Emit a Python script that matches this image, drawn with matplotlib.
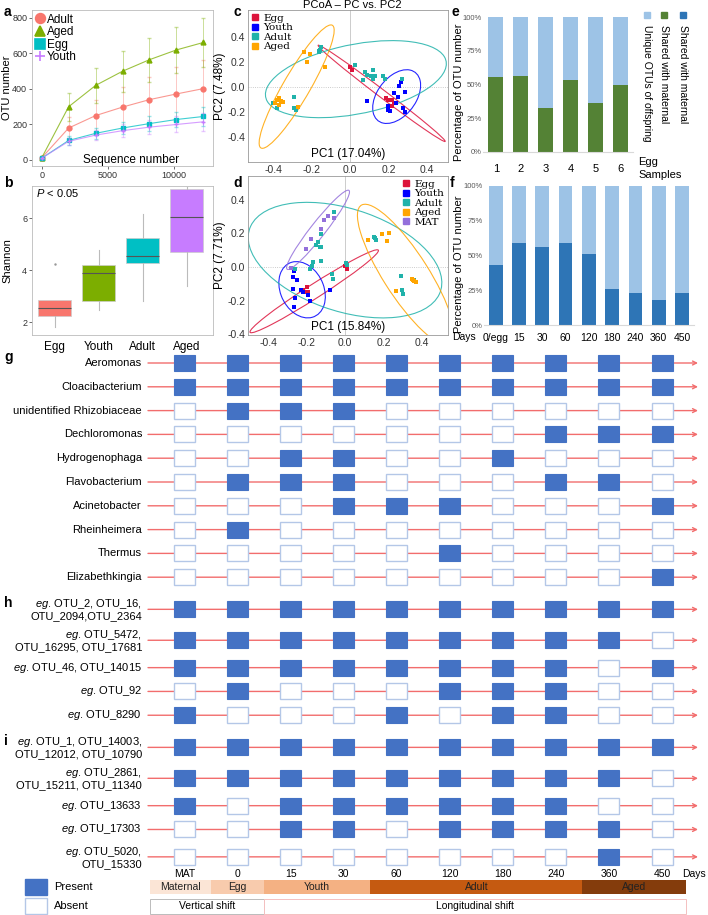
import numpy as np
import matplotlib.pyplot as plt
from matplotlib.patches import Ellipse, Rectangle
from matplotlib.lines import Line2D

plt.rcParams['font.family'] = ['Liberation Sans', 'DejaVu Sans']
plt.rcParams['mathtext.fontset'] = 'custom'
plt.rcParams['mathtext.it'] = 'Liberation Sans:italic'
plt.rcParams['mathtext.rm'] = 'Liberation Sans'

# ---------------- data ----------------
# a: rarefaction curves
seq_depth = [0, 2040, 4080, 6120, 8160, 10200, 12240]
otu_adult = [12, 180, 250, 298, 340, 372, 402]
otu_aged = [12, 300, 420, 500, 565, 620, 662]
otu_egg = [10, 110, 150, 180, 205, 228, 245]
otu_youth = [10, 105, 140, 165, 185, 200, 215]
sd_adult = [5, 60, 90, 115, 130, 150, 160]
sd_aged = [5, 80, 100, 115, 125, 130, 140]
sd_egg = [3, 25, 30, 35, 40, 45, 55]
sd_youth = [3, 20, 30, 35, 40, 45, 50]

# b: Shannon boxplot summary
shannon_groups = ['Egg', 'Youth', 'Adult', 'Aged']
shannon_med = [2.54, 3.88, 4.56, 6.05]
shannon_q1 = [2.23, 2.80, 4.26, 4.71]
shannon_q3 = [2.85, 4.19, 5.24, 7.14]
shannon_lo = [1.80, 2.46, 2.82, 3.38]
shannon_hi = [2.85, 4.77, 6.18, 7.20]
shannon_out = [[4.23], [], [], []]

# c: PCoA (no MAT)
c_egg_x = [0.00, 0.01, 0.19, 0.20, 0.22, 0.23, 0.22]
c_egg_y = [0.16, 0.14, -0.09, -0.10, -0.10, -0.13, -0.15]
c_youth_x = [0.087, 0.265, 0.255, 0.285, 0.24, 0.25, 0.196, 0.20, 0.277, 0.285, 0.21, 0.23]
c_youth_y = [-0.11, 0.045, 0.01, -0.04, -0.13, -0.08, -0.18, -0.15, -0.17, -0.20, -0.19, -0.05]
c_adult_x = [-0.16, -0.155, -0.15, -0.16, -0.29, -0.29, -0.28, -0.38, -0.40, 0.026, 0.078,
             0.087, 0.12, 0.11, 0.13, 0.12, 0.07, 0.17, 0.18, 0.27]
c_adult_y = [0.28, 0.30, 0.32, 0.29, -0.075, -0.17, -0.18, -0.17, -0.13, 0.18, 0.125,
             0.10, 0.14, 0.087, 0.09, 0.07, 0.06, 0.087, 0.07, 0.07]
c_aged_x = [-0.24, -0.21, -0.225, -0.13, -0.38, -0.37, -0.36, -0.35, -0.37, -0.27, -0.39]
c_aged_y = [0.285, 0.27, 0.20, 0.16, -0.10, -0.09, -0.11, -0.12, -0.14, -0.16, -0.13]
# ellipses: (cx, cy, semi-major, semi-minor, angle)
c_ell_egg = (0.165, -0.049, 0.508, 0.025, -49.5)
c_ell_youth = (0.243, -0.075, 0.224, 0.109, 72)
c_ell_adult = (0.031, 0.065, 0.494, 0.27, 21.4)
c_ell_aged = (-0.277, 0.005, 0.527, 0.075, 69.8)

# d: PCoA with MAT
d_egg_x = [0.0, 0.01, -0.22, -0.20, -0.19, -0.215]
d_egg_y = [0.005, -0.01, -0.14, -0.12, -0.15, -0.15]
d_youth_x = [-0.263, -0.27, -0.25, -0.27, -0.22, -0.26, -0.19, -0.18, -0.263, -0.08, -0.23]
d_youth_y = [-0.024, -0.06, -0.08, -0.13, -0.15, -0.186, -0.17, -0.20, -0.24, -0.137, -0.14]
d_adult_x = [-0.056, -0.107, -0.125, -0.14, -0.15, -0.13, -0.125, -0.17, -0.18, -0.165, -0.125,
             -0.26, -0.067, -0.06, 0.005, 0.01, 0.15, 0.16, 0.155, 0.29, 0.297, 0.30, 0.36]
d_adult_y = [0.325, 0.28, 0.195, 0.15, 0.13, 0.12, 0.12, 0.005, -0.01, 0.03, 0.035,
             -0.012, -0.04, -0.07, 0.02, 0.01, 0.18, 0.16, 0.17, -0.057, -0.14, -0.16, -0.08]
d_aged_x = [0.121, 0.194, 0.23, 0.216, 0.263, 0.35, 0.36, 0.37, 0.355]
d_aged_y = [0.16, 0.194, 0.2, 0.155, -0.146, -0.07, -0.085, -0.09, -0.08]
d_mat_x = [-0.107, -0.09, -0.056, -0.126, -0.178, -0.204, -0.28]
d_mat_y = [0.28, 0.30, 0.289, 0.225, 0.164, 0.105, -0.008]
d_ell_egg = (-0.16, -0.145, 0.413, 0.04, 36.3)
d_ell_youth = (-0.223, -0.136, 0.172, 0.114, 108)
d_ell_adult = (0.0, 0.04, 0.53, 0.30, -22.5)
d_ell_aged = (0.316, -0.046, 0.473, 0.12, 118.9)
d_ell_mat = (-0.14, 0.22, 0.284, 0.04, 55.7)

# e: egg samples
egg_samples = ['1', '2', '3', '4', '5', '6']
egg_shared = [0.555, 0.565, 0.325, 0.535, 0.365, 0.495]

# f: offspring by day
day_labels = ['0/egg', '15', '30', '60', '120', '180', '240', '360', '450']
day_shared = [0.43, 0.59, 0.56, 0.59, 0.51, 0.26, 0.23, 0.18, 0.23]

# g/h/i: presence / absence
columns = ['MAT', '0', '15', '30', '60', '120', '180', '240', '360', '450']
g_labels = ['Aeromonas', 'Cloacibacterium', 'unidentified Rhizobiaceae', 'Dechloromonas',
            'Hydrogenophaga', 'Flavobacterium', 'Acinetobacter', 'Rheinheimera',
            'Thermus', 'Elizabethkingia']
g_presence = [
    [1, 1, 1, 1, 1, 1, 1, 1, 1, 1],
    [1, 1, 1, 1, 1, 1, 1, 1, 1, 1],
    [0, 1, 1, 1, 0, 0, 0, 0, 0, 0],
    [0, 0, 0, 0, 0, 0, 0, 1, 1, 1],
    [0, 0, 1, 1, 0, 0, 1, 0, 0, 0],
    [0, 1, 1, 1, 0, 0, 0, 1, 1, 0],
    [0, 0, 0, 1, 1, 1, 0, 0, 0, 1],
    [0, 1, 0, 0, 0, 0, 0, 0, 0, 0],
    [0, 0, 0, 0, 0, 1, 0, 0, 0, 0],
    [0, 0, 0, 0, 0, 0, 0, 0, 0, 1],
]
h_labels = ['$\\it{eg}$. OTU_2, OTU_16,\nOTU_2094,OTU_2364',
            '$\\it{eg}$. OTU_5472,\nOTU_16295, OTU_17681',
            '$\\it{eg}$. OTU_46, OTU_14015',
            '$\\it{eg}$. OTU_92',
            '$\\it{eg}$. OTU_8290']
h_presence = [
    [1, 1, 1, 1, 1, 1, 1, 1, 1, 1],
    [1, 1, 1, 1, 1, 1, 1, 1, 1, 0],
    [1, 1, 1, 1, 1, 1, 1, 1, 0, 1],
    [0, 1, 0, 0, 0, 1, 1, 1, 0, 0],
    [1, 0, 0, 0, 1, 0, 1, 1, 0, 0],
]
i_labels = ['$\\it{eg}$. OTU_1, OTU_14003,\nOTU_12012, OTU_10790',
            '$\\it{eg}$. OTU_2861,\nOTU_15211, OTU_11340',
            '$\\it{eg}$. OTU_13633',
            '$\\it{eg}$. OTU_17303',
            '$\\it{eg}$. OTU_5020,\nOTU_15330']
i_presence = [
    [1, 1, 1, 1, 1, 1, 1, 1, 1, 1],
    [1, 1, 1, 1, 1, 1, 1, 1, 1, 0],
    [1, 0, 1, 1, 1, 1, 1, 1, 0, 0],
    [0, 0, 1, 1, 0, 1, 1, 1, 1, 0],
    [0, 0, 0, 0, 0, 0, 0, 0, 1, 0],
]
phases = ['Maternal', 'Egg', 'Youth', 'Adult', 'Aged']
phase_edges = [-0.65, 0.5, 1.5, 3.5, 7.5, 9.45]
phase_colors = ['#FBE5D6', '#F8CBAD', '#F4B183', '#C55A11', '#843C0C']

# ---------------- figure ----------------
W, H = 708, 915
fig = plt.figure(figsize=(W / 100, H / 100), dpi=100)


def px_axes(x0, y0, x1, y1):
    return fig.add_axes([x0 / W, 1 - y1 / H, (x1 - x0) / W, (y1 - y0) / H])


def ftext(x, y, s, **kw):
    fig.text(x / W, 1 - y / H, s, **kw)


col_a = {'Adult': '#F8766D', 'Aged': '#7CAE00', 'Egg': '#00BFC4', 'Youth': '#C77CFF'}
col_p = {'Egg': '#DC143C', 'Youth': '#0000FF', 'Adult': '#20B2AA', 'Aged': '#FFA500', 'MAT': '#9370DB'}
tick_col = '#333333'

# ---- a
ax = px_axes(32, 10, 213, 166)
series = [('Adult', otu_adult, sd_adult, 'o'), ('Aged', otu_aged, sd_aged, '^'),
          ('Egg', otu_egg, sd_egg, 's'), ('Youth', otu_youth, sd_youth, '+')]
handles = []
for name, m, s, mk in series:
    c = col_a[name]
    ax.errorbar(seq_depth, m, yerr=s, fmt='none', ecolor=c, alpha=0.4, elinewidth=0.7, capsize=1.5)
    ax.plot(seq_depth, m, color=c, lw=0.8, alpha=0.75)
    ax.plot(seq_depth, m, mk, color=c, ms=3.5, mew=1)
    handles.append(Line2D([], [], marker=mk, color=c, ls='none', ms=7, mew=1.2, label=name))
ax.legend(handles=handles, loc='upper left', frameon=False, fontsize=8.5, handlelength=0.8,
          labelspacing=0.05, handletextpad=0.15, borderpad=0.1, borderaxespad=0.2)
ax.set_xlim(-735, 12970)
ax.set_ylim(-34, 845)
ax.set_xticks([0, 5000, 10000])
ax.set_yticks([0, 200, 400, 600, 800])
ax.tick_params(labelsize=6.5, colors=tick_col, length=2, width=0.5, pad=1.5)
ax.set_ylabel('OTU number', fontsize=8)
ax.yaxis.set_label_coords(-0.108, 0.5)
ax.text(0.55, 0.04, 'Sequence number', transform=ax.transAxes, ha='center', va='center', fontsize=8.5)
for sp in ax.spines.values():
    sp.set_color('#bbbbbb')
    sp.set_linewidth(0.6)

# ---- b
ax = px_axes(32, 186, 213, 335)
stats = []
for k, g in enumerate(shannon_groups):
    stats.append(dict(med=shannon_med[k], q1=shannon_q1[k], q3=shannon_q3[k],
                      whislo=shannon_lo[k], whishi=shannon_hi[k], fliers=shannon_out[k], label=g))
bp = ax.bxp(stats, positions=[1, 2, 3, 4], widths=0.75, patch_artist=True, showcaps=False,
            medianprops=dict(color='#555555', lw=0.8),
            whiskerprops=dict(color='#bbbbbb', lw=0.8),
            flierprops=dict(marker='.', ms=1.5, mfc='#999999', mec='#999999'))
box_cols = ['#F8766D', '#7CAE00', '#00BFC4', '#C77CFF']
for patch, c in zip(bp['boxes'], box_cols):
    patch.set_facecolor(c)
    patch.set_edgecolor('#cccccc')
    patch.set_linewidth(0.5)
ax.set_xlim(0.48, 4.6)
ax.set_ylim(1.5, 7.25)
ax.set_yticks([2, 4, 6])
ax.tick_params(axis='y', labelsize=6.5, colors=tick_col, length=2, width=0.5, pad=1.5)
ax.tick_params(axis='x', labelsize=8.5, length=0, pad=4)
ax.set_ylabel('Shannon', fontsize=8)
ax.yaxis.set_label_coords(-0.108, 0.5)
ax.text(0.02, 0.95, '$\\it{P}$ < 0.05', transform=ax.transAxes, fontsize=8, va='center')
for sp in ax.spines.values():
    sp.set_color('#bbbbbb')
    sp.set_linewidth(0.6)


def pcoa(ax, groups, ells, xlim, ylim, xlab, ylab, legloc):
    ax.axvline(0, color='#cccccc', lw=0.7, zorder=0)
    ax.axhline(0, color='#bbbbbb', lw=0.6, ls=':', zorder=0)
    hs = []
    for name, xs, ys in groups:
        ax.scatter(xs, ys, marker='s', s=7, color=col_p[name], lw=0, zorder=3)
        hs.append(Line2D([], [], marker='s', color=col_p[name], ls='none', ms=4.5, label=name))
    for name, (cx, cy, a, b, ang) in ells:
        ax.add_patch(Ellipse((cx, cy), 2 * a, 2 * b, angle=ang, fill=False,
                             ec=col_p[name], lw=0.8, alpha=0.85))
    ax.set_xlim(*xlim)
    ax.set_ylim(*ylim)
    ax.set_xticks([-0.4, -0.2, 0.0, 0.2, 0.4])
    ax.set_yticks([-0.4, -0.2, 0.0, 0.2, 0.4])
    ax.xaxis.set_major_formatter(plt.FuncFormatter(lambda v, p: f'{v:.1f}'))
    ax.yaxis.set_major_formatter(plt.FuncFormatter(lambda v, p: f'{v:.1f}'))
    ax.tick_params(labelsize=7.5, colors=tick_col, length=0, pad=2)
    ax.set_ylabel(ylab, fontsize=8.5, labelpad=1)
    ax.text(0.5, 0.05, xlab, transform=ax.transAxes, ha='center', va='center', fontsize=8.5)
    ax.legend(handles=hs, loc=legloc, frameon=False, handlelength=0.6, handletextpad=0.5,
              labelspacing=0.02, borderaxespad=0.25, borderpad=0.1,
              prop=dict(family='DejaVu Serif', size=7.5))
    for sp in ax.spines.values():
        sp.set_color('#999999')
        sp.set_linewidth(0.6)


# ---- c
ax = px_axes(248, 10, 448, 162)
pcoa(ax, [('Egg', c_egg_x, c_egg_y), ('Youth', c_youth_x, c_youth_y),
          ('Adult', c_adult_x, c_adult_y), ('Aged', c_aged_x, c_aged_y)],
     [('Egg', c_ell_egg), ('Youth', c_ell_youth), ('Adult', c_ell_adult), ('Aged', c_ell_aged)],
     (-0.53, 0.51), (-0.6, 0.62), 'PC1 (17.04%)', 'PC2 (7.48%)', 'upper left')
ftext(352, 5.5, 'PCoA – PC vs. PC2', ha='center', va='center', fontsize=8)

# ---- d
ax = px_axes(248, 176, 448, 335)
pcoa(ax, [('Egg', d_egg_x, d_egg_y), ('Youth', d_youth_x, d_youth_y),
          ('Adult', d_adult_x, d_adult_y), ('Aged', d_aged_x, d_aged_y), ('MAT', d_mat_x, d_mat_y)],
     [('Egg', d_ell_egg), ('Youth', d_ell_youth), ('Adult', d_ell_adult),
      ('Aged', d_ell_aged), ('MAT', d_ell_mat)],
     (-0.504, 0.535), (-0.405, 0.54), 'PC1 (15.84%)', 'PC2 (7.71%)', 'upper right')

# ---- e
light_blue, green, dark_blue = '#9DC3E6', '#548235', '#2E75B6'
ax = px_axes(483.3, 17, 633.3, 152)
xe = np.arange(1, len(egg_samples) + 1)
ax.bar(xe, egg_shared, width=0.6, color=green)
ax.bar(xe, 1 - np.array(egg_shared), bottom=egg_shared, width=0.6, color=light_blue)
ax.set_xlim(0.5, 6.5)
ax.set_ylim(0, 1)
ax.set_xticks(xe)
ax.set_xticklabels(egg_samples)
ax.set_yticks([0, 0.25, 0.5, 0.75, 1])
ax.set_yticklabels(['0%', '25%', '50%', '75%', '100%'])
ax.tick_params(axis='y', labelsize=5.5, colors='#595959', length=0, pad=1)
ax.tick_params(axis='x', labelsize=8, length=0, pad=9)
for s in ['left', 'top', 'right']:
    ax.spines[s].set_visible(False)
ax.spines['bottom'].set_color('#d9d9d9')
ftext(638, 162, 'Egg', fontsize=8, va='center')
ftext(638, 175, 'Samples', fontsize=8, va='center')
for xx, c, lab in [(647, light_blue, 'Unique OTUs of offspring'), (664, green, 'Shared with maternal'),
                   (683, dark_blue, 'Shared with maternal')]:
    fig.add_artist(Rectangle(((xx - 3) / W, 1 - 18 / H), 6 / W, 6 / H, color=c,
                             transform=fig.transFigure))
    ftext(xx, 25, lab, rotation=270, ha='center', va='top', fontsize=7.5)
ftext(459, 92, 'Percentage of OTU number', rotation=90, ha='center', va='center', fontsize=8)

# ---- f
ax = px_axes(484, 186, 693.7, 325)
xf = np.arange(1, len(day_labels) + 1)
ax.bar(xf, day_shared, width=0.59, color=dark_blue)
ax.bar(xf, 1 - np.array(day_shared), bottom=day_shared, width=0.59, color=light_blue)
ax.set_xlim(0.5, len(day_labels) + 0.5)
ax.set_ylim(0, 1)
ax.set_xticks(xf)
ax.set_xticklabels(day_labels)
ax.set_yticks([0, 0.25, 0.5, 0.75, 1])
ax.set_yticklabels(['0%', '25%', '50%', '75%', '100%'])
ax.tick_params(axis='y', labelsize=5.5, colors='#595959', length=0, pad=1)
ax.tick_params(axis='x', labelsize=7.5, length=0, pad=6)
for s in ['left', 'top', 'right']:
    ax.spines[s].set_visible(False)
ax.spines['bottom'].set_color('#d9d9d9')
ftext(452, 337, 'Days', fontsize=7.5, va='center')
ftext(459, 264, 'Percentage of OTU number', rotation=90, ha='center', va='center', fontsize=8)

# ---- g / h / i matrix
col_x0, col_dx = 184.5, 53.06      # pixel position of first column, column step
row_y0, row_dy = 363.0, 23.8       # pixel position of first row, row unit
ax = fig.add_axes([0, 0, 1, 1])
ax.set_xlim(-col_x0 / col_dx, (W - col_x0) / col_dx)
ax.set_ylim((H - row_y0) / row_dy, -row_y0 / row_dy)
ax.axis('off')


def py(p):
    return (p - row_y0) / row_dy


def px(p):
    return (p - col_x0) / col_dx


bw, bh = 21 / col_dx, 16 / row_dy
line_col = '#F26D6D'
y = 0.0
prev_w = None
group_starts = []
for labels, pres in [(g_labels, g_presence), (h_labels, h_presence), (i_labels, i_presence)]:
    first = True
    for lab, row in zip(labels, pres):
        w = 1.3 if '\n' in lab else 1.0
        if prev_w is not None:
            y += (prev_w + w) / 2 + (0.2 if first else 0)
        if first:
            group_starts.append(y)
        first = False
        prev_w = w
        ax.annotate('', xy=(px(698), y), xytext=(px(148), y),
                    arrowprops=dict(arrowstyle='->', color=line_col, lw=1, mutation_scale=7,
                                    shrinkA=0, shrinkB=0), zorder=1)
        ax.text(px(142), y, lab, ha='right', va='center', fontsize=8, linespacing=1.05)
        for j, v in enumerate(row):
            if v:
                ax.add_patch(Rectangle((j - bw / 2, y - bh / 2), bw, bh, fc='#4472C4',
                                       ec='#4472C4', lw=0.8, zorder=3))
            else:
                ax.add_patch(Rectangle((j - bw / 2, y - bh / 2), bw, bh, fc='white',
                                       ec='#B4C7E7', lw=1, zorder=3))

y_lab = y + 0.7
for j, c in enumerate(columns):
    ax.text(j, y_lab, c, ha='center', va='center', fontsize=7.5)
ax.text(px(682), y_lab, 'Days', ha='left', va='center', fontsize=7.5)

# phase bar
y_ph, h_ph = py(887), 14 / row_dy
for k, name in enumerate(phases):
    x0, x1 = phase_edges[k], phase_edges[k + 1]
    ax.add_patch(Rectangle((x0, y_ph - h_ph / 2), x1 - x0, h_ph, fc=phase_colors[k], ec='none'))
    ax.text((x0 + x1) / 2, y_ph, name, ha='center', va='center', fontsize=7.5, color='#222222')
y_sh, h_sh = py(906), 15 / row_dy
ax.add_patch(Rectangle((phase_edges[0], y_sh - h_sh / 2), phase_edges[2] - phase_edges[0], h_sh,
                       fc='white', ec='#bbbbbb', lw=0.7))
ax.add_patch(Rectangle((phase_edges[2], y_sh - h_sh / 2), phase_edges[-1] - phase_edges[2], h_sh,
                       fc='white', ec='#F4C0C0', lw=0.7))
ax.text((phase_edges[0] + phase_edges[2]) / 2, y_sh, 'Vertical shift', ha='center', va='center', fontsize=7.5)
ax.text((phase_edges[2] + phase_edges[-1]) / 2, y_sh, 'Longitudinal shift', ha='center', va='center',
        fontsize=7.5)

# present / absent legend
lx0, lw_ = px(25), 22 / col_dx
ax.add_patch(Rectangle((lx0, y_ph - bh / 2), lw_, bh, fc='#4472C4', ec='#4472C4'))
ax.add_patch(Rectangle((lx0, y_sh - bh / 2), lw_, bh, fc='white', ec='#B4C7E7', lw=1))
ax.text(px(54), y_ph, 'Present', va='center', fontsize=8)
ax.text(px(54), y_sh, 'Absent', va='center', fontsize=8)

# panel letters
for lab, xx, yy in [('a', 4, 12), ('b', 4, 183), ('c', 233, 12), ('d', 233, 183),
                    ('e', 452, 12), ('f', 450, 183)]:
    ftext(xx, yy, lab, fontsize=10, fontweight='bold', va='center')
for lab, gy in zip(['g', 'h', 'i'], group_starts):
    ax.text(px(4), gy - 0.25, lab, fontsize=10, fontweight='bold', va='center')

fig.savefig('out.png', dpi=100)
